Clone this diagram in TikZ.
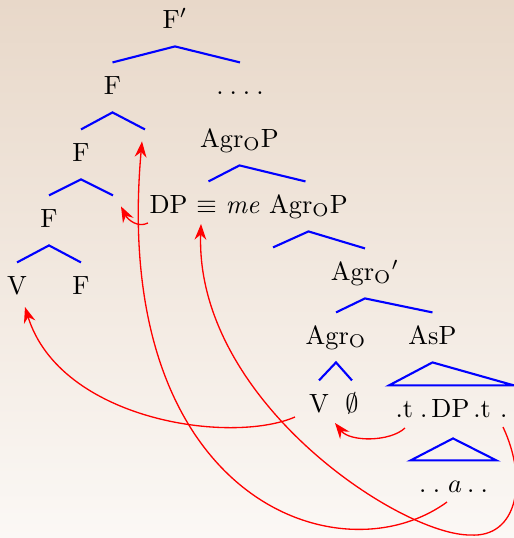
\documentclass[tikz,border=0pt]{standalone}
\usetikzlibrary{arrows.meta,calc}
\definecolor{bgtop}{RGB}{232,216,201}
\definecolor{bgbot}{RGB}{251,248,245}
\tikzset{
 tn/.style={anchor=base, inner xsep=0pt, inner ysep=4.8pt, text height=7pt, text depth=2pt},
 br/.style={draw=blue, line width=0.8pt},
 mv/.style={draw=red, line width=0.5pt, -{Stealth[length=6pt,width=4.5pt,inset=2pt]}},
}
\begin{document}
\begin{tikzpicture}[x=0.38pt,y=-0.38pt]
\shade[top color=bgtop,bottom color=bgbot] (0,0) rectangle (514,538);
\useasboundingbox (0,0) rectangle (514,538);
% nodes
\node[tn] (Fp) at (175,28) {F$'$};
\node[tn] (F1) at (112.5,94) {F};
\node[tn] (dots) at (240,94) {.\kern2.27pt.\kern2.27pt.\kern2.27pt.};
\node[tn] (s1) at (145,161) {};
\node[tn] (F2) at (81,161) {F};
\node[tn] (AP1) at (239.5,147) {Agr$_{\mathrm{O}}$P};
\node[tn] (F3) at (49,227) {F};
\node[tn] (s2) at (113,227) {};
\node[tn] (DPme) at (204.5,213) {DP $\equiv$ \textit{me}};
\node[tn] (AP2) at (308.5,213) {Agr$_{\mathrm{O}}$P};
\node[tn] (V1) at (17,294) {V};
\node[tn] (F4) at (81,294) {F};
\node[tn] (s3) at (273,279) {};
\node[tn] (Ab) at (365,280) {Agr$_{\mathrm{O}}{}'$};
\node[tn] (AO) at (336,344) {Agr$_{\mathrm{O}}$};
\node[tn] (AsP) at (432.5,344) {AsP};
\node[tn] (V2) at (319,412) {V};
\node[tn] (null) at (352,412) {$\emptyset$};
\node[tn, inner xsep=2.3pt] (tdp) at (451.5,417) {.t\kern2.7pt.\kern1.5pt DP\kern1.5pt.t\kern3.5pt.};
\node[tn, inner xsep=3pt] (a) at (453.5,492) {.\kern2.5pt.\kern3pt$a$\kern1.9pt.\kern2.4pt.};
% branches
\draw[br] (F1.north) -- (Fp.south) -- (dots.north);
\draw[br] (F2.north) -- (F1.south) -- (s1.north);
\draw[br] (F3.north) -- (F2.south) -- (s2.north);
\draw[br] (V1.north) -- (F3.south) -- (F4.north);
\draw[br] ($(DPme.north)+(4,0)$) -- (AP1.south) -- ($(AP2.north)+(-3,0)$);
\draw[br] (s3.north) -- (AP2.south) -- (Ab.north);
\draw[br] (AO.north) -- (Ab.south) -- (AsP.north);
\draw[br] (V2.north) -- (AO.south) -- (null.north);
\draw[br] (AsP.south) -- (tdp.north west) -- (tdp.north east) -- cycle;
\coordinate (dpx) at ($(tdp.south)+(1.5,3)$);
\draw[br] (dpx) -- (a.north west) -- (a.north east) -- cycle;
% movement arrows
\draw[mv] ($(V2.base)+(-24,5)$) .. controls (230,445) and (60,420) .. ($(V1.base)+(8,13)$);
\draw[mv] ($(tdp.base)+(-46.5,11)$) .. controls (390,442) and (350,442) .. ($(V2.base)+(16,11)$);
\draw[mv] ($(DPme.base)+(-56.5,10)$) .. controls (138,228) and (128,220) .. ($(s2.north)+(8,11)$);
\draw[mv] ($(a.base)+(-6.5,10)$) .. controls (340,580) and (110,500) .. ($(s1.north)+(-3,12)$);
\draw[mv] ($(tdp.base)+(51.5,10)$) .. controls (528,480) and (518,538) .. (470,535) .. controls (400,535) and (195,400) .. ($(DPme.base)+(-3.5,11)$);
\end{tikzpicture}
\end{document}
